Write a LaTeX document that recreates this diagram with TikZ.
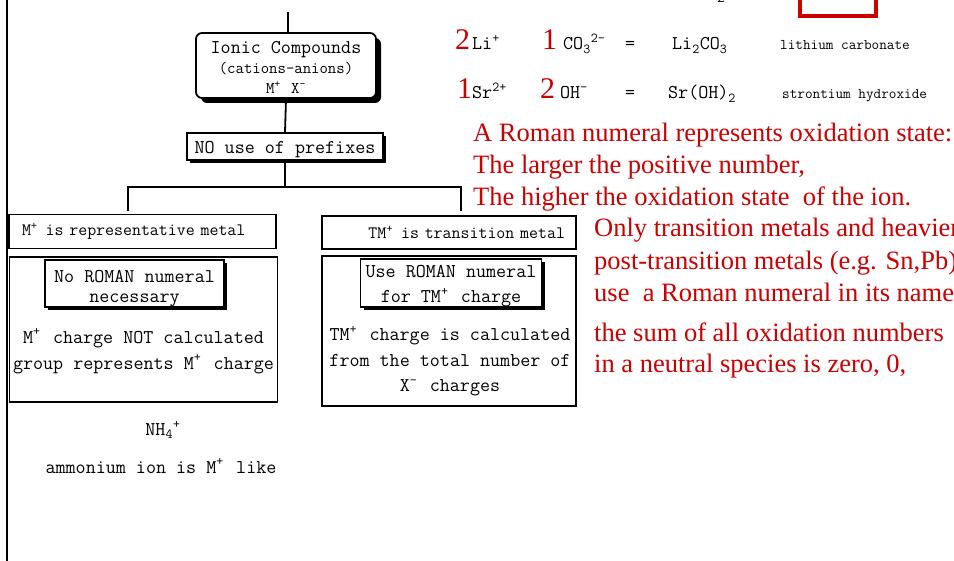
\documentclass[tikz,border=0pt]{standalone}
\usepackage{fontspec}
\setmainfont{Liberation Serif}
\usetikzlibrary{shadows}
\definecolor{chemred}{RGB}{204,0,0}
\newcommand\mtL{\fontsize{19.5}{20}\selectfont\ttfamily}
\newcommand\mtM{\fontsize{16.3}{18}\selectfont\ttfamily}
\newcommand\mtH{\fontsize{17.4}{18}\selectfont\ttfamily}
\newcommand\mtS{\fontsize{14.8}{16}\selectfont\ttfamily}
\newcommand\redtxt{\fontsize{26.5}{32}\selectfont\rmfamily}
\newcommand\reddig{\fontsize{30}{32}\selectfont\rmfamily}
\newcommand\chsup[1]{\textsuperscript{#1}\kern0.12em\relax}
\begin{document}
\begin{tikzpicture}[x=1pt,y=-1pt,
  box/.style={draw, line width=1.8pt, inner sep=0pt, fill=white},
  shbox/.style={box, drop shadow={shadow xshift=3pt, shadow yshift=-3pt, fill=black, opacity=1}},
  conn/.style={line width=1.8pt},
  plain/.style={inner sep=0pt},
  redline/.style={inner sep=0pt, anchor=base west, text=chemred, font=\redtxt},
  reddigit/.style={inner sep=0pt, anchor=base west, text=chemred, font=\reddig},
  formula/.style={inner sep=0pt, anchor=base west, font=\mtL},
  chemname/.style={inner sep=0pt, anchor=base west, font=\mtS}]
\useasboundingbox (0,0) rectangle (954,561);

% left margin line
\coordinate (vtop) at (7,0);
\coordinate (vbot) at (7,561);
\draw[line width=1.6pt] (vtop) -- (vbot);

% top partial elements
\node[chemname, anchor=base] (cut2) at (721,3) {2};
\node[draw=chemred, line width=3.5pt, minimum width=76pt, minimum height=50pt, inner sep=0pt] (rbox) at (838,-9) {};

% tree
\node[box, rounded corners=6pt, minimum width=180pt, minimum height=65pt, align=center,
      font=\mtL, drop shadow={shadow xshift=5pt, shadow yshift=-5pt, fill=black, opacity=1}]
  (ionic) at (286,65.5) {\rule{0pt}{17pt}Ionic Compounds\\{\mtM (cations-anions)}\\{\mtM M\chsup{+} X\textsuperscript{-}}};
\coordinate (topc) at (288,12);
\draw[conn] (topc) -- (topc |- ionic.north);

\node[shbox, minimum width=196pt, minimum height=27pt, text height=19pt, text depth=4pt, font=\mtL] (no) at (285,146.5) {NO use of prefixes};
\draw[conn] (ionic.south) -- (no.north);

\coordinate (split) at (288,187);
\coordinate (dl) at (128,211);
\coordinate (dr) at (461,211);
\draw[conn] (no.south) -- (no.south |- split);
\draw[conn] (dl) -- (dl |- split) -- (dr |- split) -- (dr);

% headers
\node[box, minimum height=34pt, text width=241pt, inner xsep=13pt, align=left, font=\mtH]
  (lhead) at (142.5,231.5) {M\chsup{+} is representative metal};
\node[box, minimum height=33pt, text width=232pt, inner xsep=11pt, align=right, font=\mtH]
  (rhead) at (449,232.5) {TM\chsup{+} is transition metal};

% big boxes
\node[box, minimum width=268pt, minimum height=145pt] (lbig) at (143.5,329.5) {};
\node[box, minimum width=254pt, minimum height=150pt] (rbig) at (449,331) {};

% inner boxes
\node[shbox, minimum width=179pt, minimum height=45pt, align=center, font=\fontsize{19.5}{20}\selectfont\ttfamily]
  (lin) at (134.5,283.5) {\rule{0pt}{22pt}No ROMAN numeral\\necessary};
\node[shbox, minimum width=181pt, minimum height=46pt, align=center, font=\fontsize{19.5}{25}\selectfont\ttfamily]
  (rin) at (451,283) {\rule{0pt}{19pt}Use ROMAN numeral\\for TM\chsup{+} charge};

% texts inside big boxes
\node[plain, align=center, font=\fontsize{19.5}{26}\selectfont\ttfamily]
  (ltext) at (143.5,351) {M\chsup{+} charge NOT calculated\\group represents M\chsup{+} charge};
\node[plain, align=center, font=\fontsize{19.5}{25.5}\selectfont\ttfamily]
  (rtext) at (450,361) {TM\chsup{+} charge is calculated\\from the total number of\\X\chsup{-} charges};

% ammonium
\node[plain, font=\mtL] (nh4) at (163,430) {NH\textsubscript{4}\textsuperscript{+}};
\node[plain, font=\mtL] (amm) at (161,466) {ammonium ion is M\chsup{+} like};

% formula rows
\node[reddigit] (r1a) at (455,50) {2};
\node[formula] (r1b) at (472,50) {Li\textsuperscript{+}};
\node[reddigit] (r1c) at (542,50) {1};
\node[formula] (r1d) at (563,50) {CO\textsubscript{3}\textsuperscript{2-}};
\node[formula] (r1e) at (625,50) {=};
\node[formula] (r1f) at (672,50) {Li\textsubscript{2}CO\textsubscript{3}};
\node[chemname] (r1g) at (780,50) {lithium carbonate};

\node[reddigit] (r2a) at (457,99) {1};
\node[formula] (r2b) at (472,99) {Sr\textsuperscript{2+}};
\node[reddigit] (r2c) at (540,99) {2};
\node[formula] (r2d) at (560,99) {OH\textsuperscript{-}};
\node[formula] (r2e) at (625,99) {=};
\node[formula] (r2f) at (668,99) {Sr(OH)\textsubscript{2}};
\node[chemname] (r2g) at (782,99) {strontium hydroxide};

% red explanation text
\node[redline] (t1) at (473,142) {A Roman numeral represents oxidation state:};
\node[redline] (t2) at (473,174) {The larger the positive number,};
\node[redline] (t3) at (473,206) {The higher the oxidation state\ \ of the ion.};
\node[redline] (t4) at (594,237) {Only transition metals and heavier};
\node[redline] (t5) at (594,270) {post-transition metals (e.g. Sn,Pb)};
\node[redline] (t6) at (594,302) {use\ \ a Roman numeral in its name};
\node[redline] (t7) at (594,342) {the sum of all oxidation numbers};
\node[redline] (t8) at (594,373) {in a neutral species is zero, 0,};
\end{tikzpicture}
\end{document}
